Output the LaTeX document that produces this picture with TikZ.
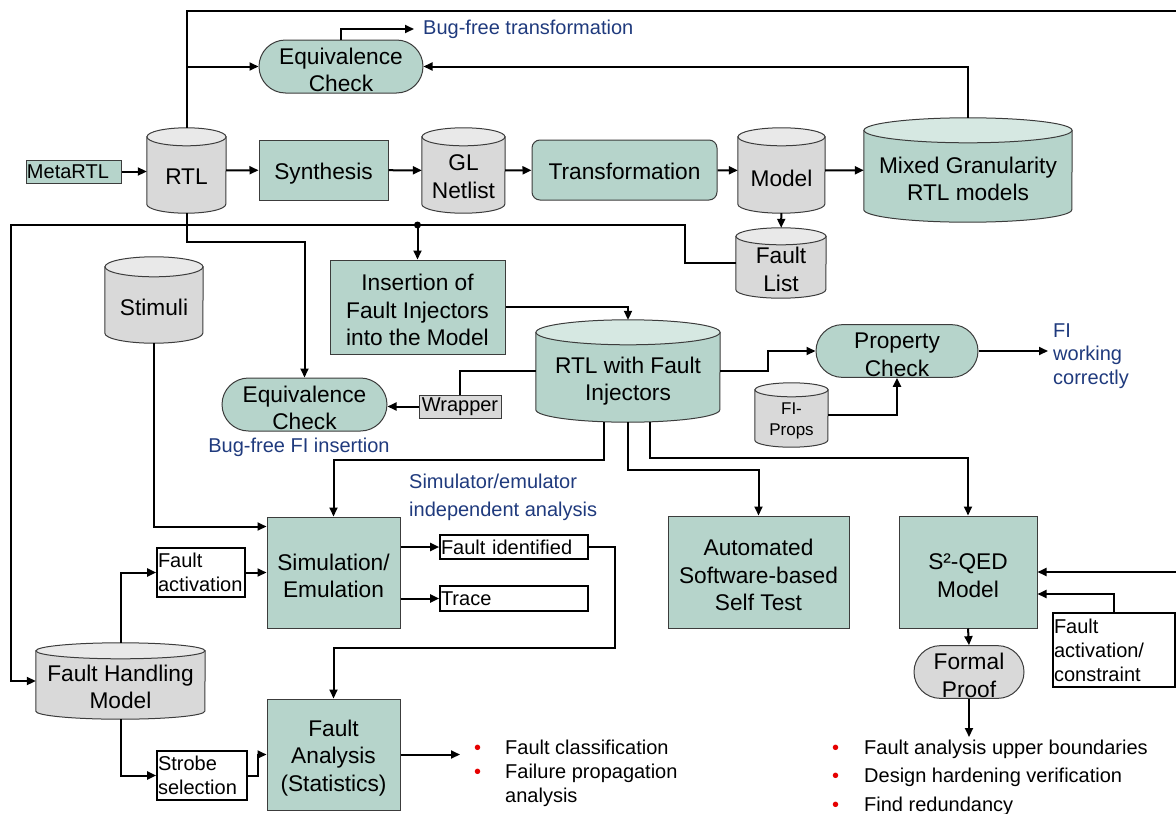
\documentclass[tikz,border=0pt]{standalone}
\usepackage{fontspec}
\setmainfont{Liberation Sans}
\usetikzlibrary{shapes.misc,arrows.meta,calc,backgrounds}

\definecolor{tealfill}{RGB}{182,212,203}
\definecolor{tealtop}{RGB}{214,232,226}
\definecolor{grayfill}{RGB}{217,217,217}
\definecolor{graytop}{RGB}{233,233,233}
\definecolor{boxedge}{RGB}{60,60,60}
\definecolor{notetxt}{RGB}{31,58,125}
\definecolor{bulletred}{RGB}{230,0,0}

\newcommand{\bigtxt}{\fontsize{22.7}{27.5}\selectfont}
\newcommand{\smalltxt}{\fontsize{20}{24}\selectfont}
\newcommand{\rdot}{\textcolor{bulletred}{\textbullet}}
\newcommand{\dbpad}[1]{\rule{0pt}{#1pt}}
\newcommand{\lnpad}{\rule[-4.8pt]{0pt}{27.8pt}}
% cylinder behind a named node: node, x radius, y radius, colour prefix
\newcommand{\dbdraw}[4]{%
  \filldraw[dbline, fill=#4fill] ($(#1.north west)+(0,#3)$) -- ($(#1.south west)+(0,-#3)$)
    arc[start angle=180, end angle=360, x radius=#2pt, y radius=#3pt]
    -- ($(#1.north east)+(0,#3)$) -- cycle;
  \filldraw[dbline, fill=#4top] ($(#1.north)+(0,#3)$) ellipse[x radius=#2pt, y radius=#3pt];
}

\tikzset{
  conn/.style={line width=2pt, -{Triangle[length=9pt,width=8pt]}},
  line/.style={line width=2pt},
  wh/.style 2 args={minimum width=#1pt, minimum height=#2pt},
  box/.style={draw=boxedge, line width=1pt, fill=tealfill, align=center, font=\bigtxt, inner sep=1pt},
  stadium/.style={box, rounded rectangle},
  whitebox/.style={draw=black, line width=1.6pt, fill=white, align=left, font=\smalltxt, inner sep=1pt},
  dbnode/.style={rectangle, inner sep=0pt, align=center, font=\bigtxt},
  dbline/.style={draw=boxedge, line width=1pt},
  note/.style={text=notetxt, font=\smalltxt, align=left, inner sep=0pt},
  bullets/.style={anchor=north west, inner sep=0pt, font=\smalltxt},
}

\begin{document}
\begin{tikzpicture}[x=1pt,y=-1pt]
  \useasboundingbox (0,0) rectangle (1176,814);

  \node[box, align=left, font=\smalltxt, text width=93pt, wh={95}{23}] (meta) at (73.5,171.5) {MetaRTL};
  \node[dbnode, wh={79}{85}] (rtl) at (186.5,170.5) {\dbpad{27}RTL};
  \node[box, wh={129}{60}] (synth) at (323.5,170) {\lnpad Synthesis};
  \node[dbnode, wh={83}{85}] (gl) at (463.5,170.5) {\dbpad{28.5}GL\\Netlist};
  \node[box, rounded corners=8pt, wh={185}{60}] (trans) at (624.5,170) {\lnpad Transformation};
  \node[dbnode, wh={87}{85}] (model) at (781.5,170.5) {\dbpad{31.5}Model};
  \node[dbnode, wh={208}{104}] (mixed) at (968,170) {\dbpad{34.5}Mixed Granularity\\RTL models};
  \node[stadium, wh={166}{53}] (eqtop) at (341,66.5) {\lnpad Equivalence\\Check};
  \node[note, anchor=west, inner xsep=9pt] (bugtr) at (414,29) {Bug-free transformation};
  \node[dbnode, wh={90}{70}] (flist) at (781,263) {\dbpad{29}Fault\\List};

  \node[dbnode, wh={98}{86}] (stim) at (154,300) {\dbpad{30.5}Stimuli};
  \node[box, wh={175}{94}] (insert) at (417.5,307) {\lnpad Insertion of\\Fault Injectors\\into the Model};
  \node[dbnode, wh={184}{102}] (rtlfi) at (628,371) {\dbpad{36.5}RTL with Fault\\Injectors};
  \node[box, fill=grayfill, font=\smalltxt, wh={82}{23}] (wrapper) at (460,406.5) {Wrapper};
  \node[stadium, wh={167}{53}] (eqlow) at (304.5,404.5) {\lnpad Equivalence\\Check};
  \node[note] (bugfi) at (299,447) {Bug-free FI insertion};
  \node[stadium, wh={164}{52}] (prop) at (897,351) {\lnpad Property\\Check};
  \node[note, anchor=west, inner xsep=5pt, font=\fontsize{20}{23.5}\selectfont] (fiok) at (1048,356) {FI\\working\\correctly};
  \node[dbnode, font=\fontsize{17}{21}\selectfont, wh={73}{64}] (fiprops) at (791.5,415) {\dbpad{24.5}FI-\\Props};

  \node[note, anchor=west, font=\fontsize{20}{28}\selectfont] (simtxt) at (409,497) {Simulator/emulator\\independent analysis};
  \node[box, wh={133}{111}] (sim) at (333.5,572.5) {\lnpad Simulation/\\Emulation};
  \node[whitebox, text width=86pt, wh={88}{49}] (factv) at (201,572.5) {Fault\\activation};
  \node[dbnode, wh={169}{76}] (fhm) at (120.5,681) {\dbpad{28.5}Fault Handling\\Model};
  \node[whitebox, text width=88pt, wh={90}{49}] (strobe) at (202,775.5) {Strobe\\selection};
  \node[whitebox, text width=146pt, wh={148}{24}] (fid) at (514,547) {Fault identified};
  \node[whitebox, text width=146pt, wh={148}{25}] (trace) at (514,598.5) {Trace};
  \node[box, wh={133}{111}] (fana) at (333.5,754.5) {\lnpad Fault\\Analysis\\(Statistics)};
  \node[bullets, inner xsep=14pt] (bull1) at (460,737) {%
    \begin{tabular}{@{}p{31pt}@{}l@{}}
      \rdot & Fault classification\\
      \rdot & Failure propagation\\
            & analysis
    \end{tabular}};

  \node[box, wh={181}{112}] (auto) at (758.5,572) {\lnpad Automated\\Software-based\\Self Test};
  \node[box, wh={138}{112}] (sqed) at (968,572) {\lnpad S²-QED\\Model};
  \node[whitebox, text width=120pt, wh={122}{74}] (fconstr) at (1114,650) {Fault\\activation/\\constraint};
  \node[stadium, fill=grayfill, wh={112}{52}] (proof) at (969,672) {\lnpad Formal\\Proof};
  \node[bullets] (bull2) at (832,737) {%
    \begin{tabular}{@{}p{32pt}@{}l@{}}
      \rdot & Fault analysis upper boundaries\\[4.5pt]
      \rdot & Design hardening verification\\[4.5pt]
      \rdot & Find redundancy
    \end{tabular}};

  \begin{scope}[on background layer]
    \dbdraw{rtl}{39.5}{9}{gray}
    \dbdraw{gl}{41.5}{9}{gray}
    \dbdraw{model}{43.5}{9}{gray}
    \dbdraw{mixed}{104}{12.5}{teal}
    \dbdraw{flist}{45}{8.5}{gray}
    \dbdraw{stim}{49}{10}{gray}
    \dbdraw{rtlfi}{92}{12.5}{teal}
    \dbdraw{fiprops}{36.5}{7}{gray}
    \dbdraw{fhm}{84.5}{8}{gray}
  \end{scope}

  \coordinate (ctop) at (1177,11);
  \coordinate (jfl) at (685,225);
  \coordinate (jleft) at (11,225);

  \draw[conn] (meta.east) -- (meta.east -| rtl.west);
  \draw[conn] (rtl) -- (synth);
  \draw[conn] (synth) -- (gl);
  \draw[conn] (gl) -- (trans);
  \draw[conn] (trans) -- (model);
  \draw[conn] (model) -- (mixed);
  \draw[conn] (rtl.north) |- (ctop) |- (sqed.east);
  \draw[conn] (rtl.north |- eqtop) -- (eqtop);
  \draw[conn] (eqtop.north) |- (bugtr.west);
  \draw[conn] (mixed.north) |- (eqtop.east);
  \draw[conn] (model) -- (flist);
  \draw[conn] (flist.west) -| (jfl) -- (jleft) |- (fhm.west);
  \fill (insert.north |- jfl) circle (3.5pt);
  \draw[conn] (insert.north |- jfl) -- (insert.north);
  \draw[conn] (rtl.south) -- ++(0,29) -| (eqlow.north);
  \draw[conn] (insert.east) -| (rtlfi.north);
  \draw[line] (rtlfi.west) -| (wrapper.north);
  \draw[conn] (wrapper.west) -- (wrapper.west -| eqlow.east);
  \draw[conn] (rtlfi.east) -- ++(48,0) |- (prop.west);
  \draw[conn] (prop.east) -- (prop.east -| fiok.west);
  \draw[conn] (fiprops.east) -| (prop.south);
  \draw[conn] (rtlfi.south) ++(-24,0) -- ++(0,38) -| (sim.north);
  \draw[conn] (rtlfi.south) -- ++(0,48) -| (auto.north);
  \draw[conn] (rtlfi.south) ++(22,0) -- ++(0,36) -| (sqed.north);
  \draw[conn] (stim.south) |- ($(sim.north west)+(0,10)$);
  \draw[conn] (factv.east) -- (factv.east -| sim.west);
  \draw[conn] (fhm.north) |- (factv.west);
  \draw[conn] (fhm.south) |- (strobe.west);
  \draw[conn] (strobe.east) -- ++(10,0) |- (fana.west);
  \draw[conn] (fid.west -| sim.east) -- (fid.west);
  \draw[conn] (trace.west -| sim.east) -- (trace.west);
  \draw[conn] (fid.east) -- ++(26,0) -- ++(0,101) -| (fana.north);
  \draw[conn] (fana.east) -- (fana.east -| bull1.west);
  \draw[conn] (sqed.south) -- (proof.north);
  \draw[conn] (proof.south) -- (proof.south |- bull2.north);
  \draw[conn] (fconstr.north) |- ($(sqed.east)+(0,22)$);
\end{tikzpicture}
\end{document}
